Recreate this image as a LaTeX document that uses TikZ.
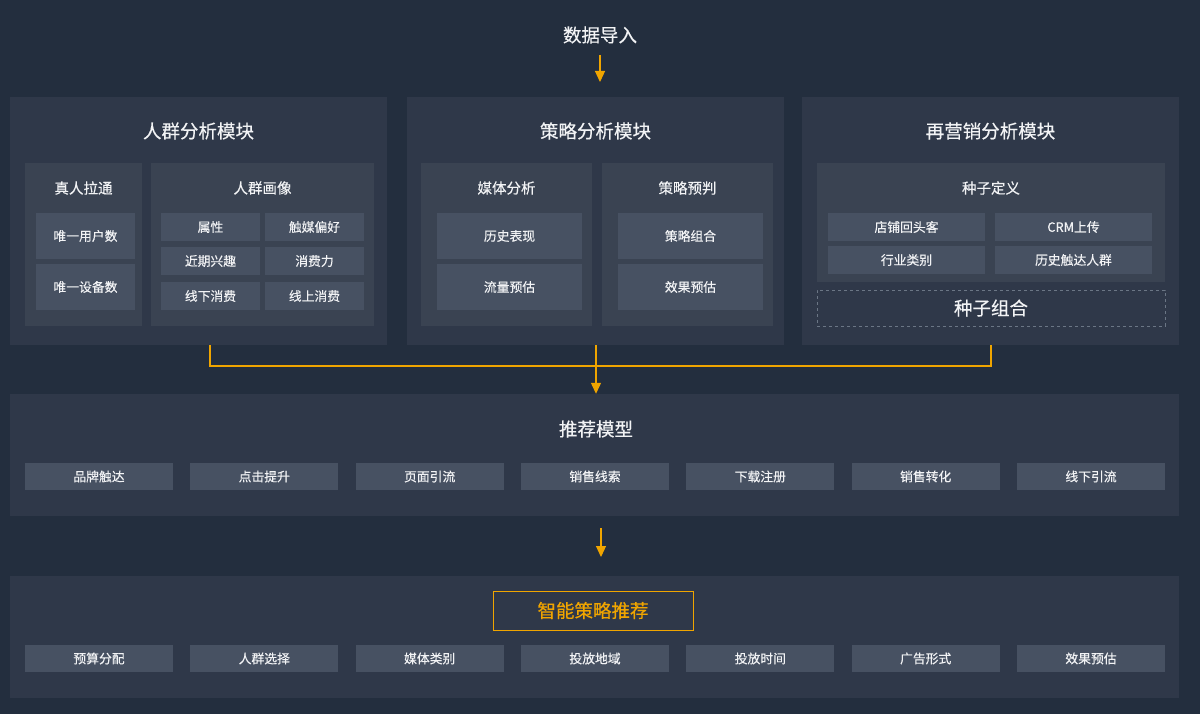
\documentclass[tikz,border=0pt]{standalone}
\usepackage{fontspec}
\setmainfont{Noto Sans CJK SC}[FakeBold=0.35]
\usetikzlibrary{arrows.meta}
\definecolor{bgc}{HTML}{232E3E}
\definecolor{panelc}{HTML}{2F3849}
\definecolor{innerc}{HTML}{3A4352}
\definecolor{cellc}{HTML}{475162}
\definecolor{dashc}{HTML}{6B7685}
\definecolor{txtc}{HTML}{F2F3F5}
\definecolor{orc}{HTML}{F0A500}
\tikzset{
  box/.style={rectangle, inner sep=0pt, draw=none},
  panel/.style={box, fill=panelc},
  inner/.style={box, fill=innerc},
  cell/.style={box, fill=cellc, text=txtc, font=\fontsize{12.8}{14}\selectfont},
  bigtitle/.style={text=txtc, inner sep=0pt, font=\fontsize{18.5}{20}\selectfont},
  subtitle/.style={text=txtc, inner sep=0pt, font=\fontsize{14.5}{16}\selectfont},
  oline/.style={draw=orc, line width=1.2pt},
  arr/.style={oline, -{Triangle[width=10pt,length=11pt]}},
}
\begin{document}
\begin{tikzpicture}[x=1pt,y=-1pt]
\useasboundingbox (0,0) rectangle (1200,714);
\fill[bgc] (0,0) rectangle (1200,714);

% source
\node[bigtitle] (src) at (600,35) {数据导入};
\coordinate (a1s) at (600,55);
\coordinate (a1e) at (600,82);
\draw[arr] (a1s) -- (a1e);

% panels
\node[panel, minimum width=377pt, minimum height=248pt] (p1) at (198.5,221) {};
\node[panel, minimum width=377pt, minimum height=248pt] (p2) at (595.5,221) {};
\node[panel, minimum width=377pt, minimum height=248pt] (p3) at (990.5,221) {};
\node[bigtitle] (t1) at (198.5,131) {人群分析模块};
\node[bigtitle] (t2) at (595.5,131) {策略分析模块};
\node[bigtitle] (t3) at (990.5,131) {再营销分析模块};

% panel 1
\node[inner, minimum width=117pt, minimum height=163pt] (b11) at (83.5,244.5) {};
\node[subtitle] (b11t) at (83.5,188) {真人拉通};
\node[cell, minimum width=99pt, minimum height=46pt] (c111) at (85.5,236) {唯一用户数};
\node[cell, minimum width=99pt, minimum height=46pt] (c112) at (85.5,287) {唯一设备数};
\node[inner, minimum width=223pt, minimum height=163pt] (b12) at (262.5,244.5) {};
\node[subtitle] (b12t) at (262.5,188) {人群画像};
\node[cell, minimum width=99pt, minimum height=28pt] (c121) at (210.5,227) {属性};
\node[cell, minimum width=99pt, minimum height=28pt] (c122) at (314.5,227) {触媒偏好};
\node[cell, minimum width=99pt, minimum height=28pt] (c123) at (210.5,261) {近期兴趣};
\node[cell, minimum width=99pt, minimum height=28pt] (c124) at (314.5,261) {消费力};
\node[cell, minimum width=99pt, minimum height=28pt] (c125) at (210.5,296) {线下消费};
\node[cell, minimum width=99pt, minimum height=28pt] (c126) at (314.5,296) {线上消费};

% panel 2
\node[inner, minimum width=171pt, minimum height=163pt] (b21) at (506.5,244.5) {};
\node[subtitle] (b21t) at (506.5,188) {媒体分析};
\node[cell, minimum width=145pt, minimum height=46pt] (c211) at (509.5,236) {历史表现};
\node[cell, minimum width=145pt, minimum height=46pt] (c212) at (509.5,287) {流量预估};
\node[inner, minimum width=171pt, minimum height=163pt] (b22) at (687.5,244.5) {};
\node[subtitle] (b22t) at (687.5,188) {策略预判};
\node[cell, minimum width=145pt, minimum height=46pt] (c221) at (690.5,236) {策略组合};
\node[cell, minimum width=145pt, minimum height=46pt] (c222) at (690.5,287) {效果预估};

% panel 3
\node[inner, minimum width=348pt, minimum height=119pt] (b31) at (991,222.5) {};
\node[subtitle] (b31t) at (991,188) {种子定义};
\node[cell, minimum width=157pt, minimum height=28pt] (c311) at (906.5,227) {店铺回头客};
\node[cell, minimum width=157pt, minimum height=28pt] (c312) at (1073.5,227) {CRM上传};
\node[cell, minimum width=157pt, minimum height=28pt] (c313) at (906.5,260) {行业类别};
\node[cell, minimum width=157pt, minimum height=28pt] (c314) at (1073.5,260) {历史触达人群};
\node[box, draw=dashc, dashed, line width=0.8pt, minimum width=348pt, minimum height=36pt,
      text=txtc, font=\fontsize{18.5}{20}\selectfont] (b32) at (991,308) {种子组合};

% recommendation model
\node[panel, minimum width=1169pt, minimum height=122pt] (p4) at (594.5,455) {};
\node[bigtitle] (t4) at (596,429) {推荐模型};
\node[cell, minimum width=148pt, minimum height=27pt] (m1) at (99,476.5) {品牌触达};
\node[cell, minimum width=148pt, minimum height=27pt] (m2) at (264.3,476.5) {点击提升};
\node[cell, minimum width=148pt, minimum height=27pt] (m3) at (429.7,476.5) {页面引流};
\node[cell, minimum width=148pt, minimum height=27pt] (m4) at (595,476.5) {销售线索};
\node[cell, minimum width=148pt, minimum height=27pt] (m5) at (760.3,476.5) {下载注册};
\node[cell, minimum width=148pt, minimum height=27pt] (m6) at (925.7,476.5) {销售转化};
\node[cell, minimum width=148pt, minimum height=27pt] (m7) at (1091,476.5) {线下引流};

% smart strategy
\node[panel, minimum width=1169pt, minimum height=122pt] (p5) at (594.5,637) {};
\node[box, draw=orc, line width=1pt, minimum width=200pt, minimum height=39pt,
      text=orc, font=\fontsize{18.5}{20}\selectfont] (t5) at (593,610.5) {智能策略推荐};
\node[cell, minimum width=148pt, minimum height=27pt] (s1) at (99,658.5) {预算分配};
\node[cell, minimum width=148pt, minimum height=27pt] (s2) at (264.3,658.5) {人群选择};
\node[cell, minimum width=148pt, minimum height=27pt] (s3) at (429.7,658.5) {媒体类别};
\node[cell, minimum width=148pt, minimum height=27pt] (s4) at (595,658.5) {投放地域};
\node[cell, minimum width=148pt, minimum height=27pt] (s5) at (760.3,658.5) {投放时间};
\node[cell, minimum width=148pt, minimum height=27pt] (s6) at (925.7,658.5) {广告形式};
\node[cell, minimum width=148pt, minimum height=27pt] (s7) at (1091,658.5) {效果预估};

% connectors
\coordinate (hub) at (596,366);
\draw[oline] ([xshift=11.5pt]p1.south) |- (hub) -| ([xshift=0.5pt]p3.south);
\draw[arr] ([xshift=0.5pt]p2.south) -- ([xshift=0.5pt]p2.south |- p4.north);
\coordinate (a2s) at (601,528);
\coordinate (a2e) at (601,557);
\draw[arr] (a2s) -- (a2e);
\end{tikzpicture}
\end{document}
